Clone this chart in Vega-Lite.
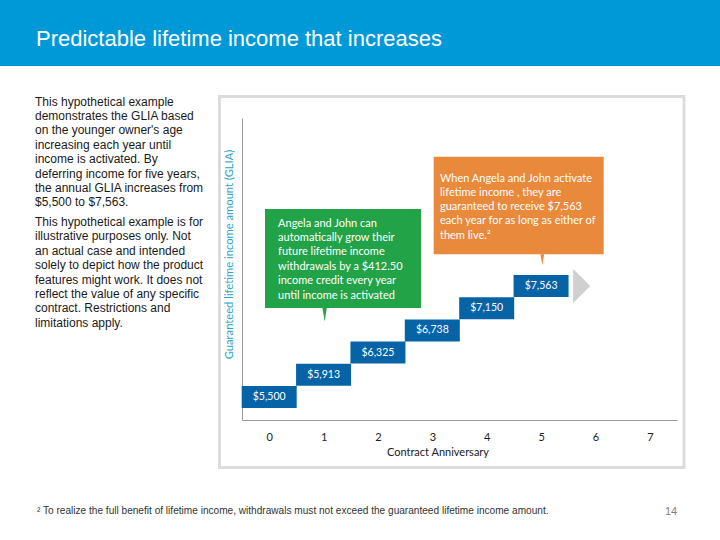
{
  "$schema": "https://vega.github.io/schema/vega-lite/v6.json",
  "padding": 0,
  "background": "white",
  "spacing": 29,
  "config": {
    "view": {"stroke": null},
    "font": "Lato",
    "axis": {"grid": false, "ticks": false, "tickSize": 0, "domainColor": "#999999", "domainWidth": 1, "labelFont": "Lato", "labelFontSize": 11, "labelColor": "#222222", "titleFont": "Lato", "titleFontWeight": "normal"}
  },
  "datasets": {
    "glia": [
      {"year": 0, "glia": 5500},
      {"year": 1, "glia": 5913},
      {"year": 2, "glia": 6325},
      {"year": 3, "glia": 6738},
      {"year": 4, "glia": 7150},
      {"year": 5, "glia": 7563}
    ]
  },
  "vconcat": [
    {
      "width": 720,
      "height": 66,
      "view": {"fill": "#0099D8", "stroke": null},
      "data": {"values": [{"heading": "Predictable lifetime income that increases"}]},
      "mark": {"type": "text", "align": "left", "baseline": "alphabetic", "font": "Liberation Sans", "fontSize": 22, "color": "white"},
      "encoding": {
        "text": {"field": "heading"},
        "x": {"datum": 36, "type": "quantitative", "scale": {"domain": [0, 720], "nice": false, "zero": false}, "axis": null},
        "y": {"datum": 46, "type": "quantitative", "scale": {"domain": [66, 0], "nice": false, "zero": false}, "axis": null}
      }
    },
    {
      "spacing": 0,
      "hconcat": [
        {
          "width": 217,
          "height": 300,
          "data": {"values": [
            {"paragraph": 1, "body": ["This hypothetical example", "demonstrates the GLIA based", "on the younger owner's age", "increasing each year until", "income is activated. By", "deferring income for five years,", "the annual GLIA increases from", "$5,500 to $7,563."]},
            {"paragraph": 2, "body": ["This hypothetical example is for", "illustrative purposes only. Not", "an actual case and intended", "solely to depict how the product", "features might work. It does not", "reflect the value of any specific", "contract. Restrictions and", "limitations apply."]}
          ]},
          "mark": {"type": "text", "align": "left", "baseline": "top", "font": "Liberation Sans", "fontSize": 12, "lineHeight": 14.4, "color": "#1a1a1a"},
          "encoding": {
            "text": {"field": "body"},
            "x": {"datum": 35, "type": "quantitative", "scale": {"domain": [0, 217], "nice": false, "zero": false}, "axis": null},
            "y": {"field": "paragraph", "type": "ordinal", "scale": {"type": "point", "range": [-21.5, 99], "padding": 0}, "axis": null}
          }
        },
        {
          "width": 435,
          "height": 302,
          "layer": [
            {
              "data": {"name": "glia"},
              "mark": {"type": "tick", "orient": "horizontal", "thickness": 22, "size": 55, "color": "#0563A6", "opacity": 1},
              "encoding": {
                "x": {"field": "year", "type": "quantitative", "scale": {"domain": [-0.5, 7.5], "nice": false, "zero": false},
                  "axis": {"title": "Contract Anniversary", "values": [0, 1, 2, 3, 4, 5, 6, 7], "format": "d", "labelPadding": 11, "titleFontSize": 11, "titleColor": "#222222", "titlePadding": 4, "titleX": 195.5}},
                "y": {"field": "glia", "type": "quantitative", "scale": {"domain": [5072.5, 10685.5], "nice": false, "zero": false},
                  "axis": {"title": "Guaranteed lifetime income amount (GLIA)", "labels": false, "titleFontSize": 11.2, "titleColor": "#2BA3C9", "titlePadding": 8, "titleY": 136}}
              }
            },
            {
              "data": {"values": [{"frame": "chart"}]},
              "mark": {"type": "rect", "fillOpacity": 0, "stroke": "#DCDCDC", "strokeWidth": 3},
              "encoding": {
                "x": {"datum": -0.914, "type": "quantitative"},
                "x2": {"datum": 7.629},
                "y": {"datum": 11085, "type": "quantitative"},
                "y2": {"datum": 4190}
              }
            },
            {
              "data": {"name": "glia"},
              "mark": {"type": "text", "align": "center", "baseline": "middle", "font": "Lato", "fontSize": 10.5, "color": "white"},
              "encoding": {
                "x": {"field": "year", "type": "quantitative", "axis": {"title": "Contract Anniversary"}},
                "y": {"field": "glia", "type": "quantitative", "axis": {"title": "Guaranteed lifetime income amount (GLIA)"}},
                "text": {"field": "glia", "type": "quantitative", "format": "$,.0f"}
              }
            },
            {
              "data": {"name": "glia"},
              "transform": [{"filter": "datum.year == 5"}],
              "mark": {"type": "point", "shape": "M-0.5,-1L0.5,0L-0.5,1Z", "size": 1176, "filled": true, "color": "#D0D0D0", "opacity": 1, "strokeWidth": 0},
              "encoding": {
                "x": {"datum": 5.747, "type": "quantitative"},
                "y": {"field": "glia", "type": "quantitative", "axis": {"title": "Guaranteed lifetime income amount (GLIA)"}}
              }
            },
            {
              "data": {"values": [{"note": ["Angela and John can", "automatically grow their", "future lifetime income", "withdrawals by a $412.50", "income credit every year", "until income is activated"]}]},
              "layer": [
                {
                  "mark": {"type": "rect", "color": "#23A347"},
                  "encoding": {
                    "x": {"datum": -0.077, "type": "quantitative"},
                    "x2": {"datum": 2.792},
                    "y": {"datum": 8994.2, "type": "quantitative"},
                    "y2": {"datum": 7154.2}
                  }
                },
                {
                  "mark": {"type": "point", "shape": "M-0.32,-1L0.32,-1L0,1Z", "size": 196, "filled": true, "color": "#23A347", "opacity": 1, "strokeWidth": 0},
                  "encoding": {
                    "x": {"datum": 1.02, "type": "quantitative"},
                    "y": {"datum": 7033.4, "type": "quantitative"}
                  }
                },
                {
                  "mark": {"type": "text", "align": "left", "baseline": "alphabetic", "font": "Lato", "fontSize": 11, "lineHeight": 14.4, "color": "white"},
                  "encoding": {
                    "text": {"field": "note"},
                    "x": {"datum": 0.1636, "type": "quantitative"},
                    "y": {"datum": 8668, "type": "quantitative"}
                  }
                }
              ]
            },
            {
              "data": {"values": [{"note": ["When Angela and John activate", "lifetime income , they are", "guaranteed to receive $7,563", "each year for as long as either of", "them live.²"]}]},
              "layer": [
                {
                  "mark": {"type": "rect", "color": "#E8893C"},
                  "encoding": {
                    "x": {"datum": 3.0255, "type": "quantitative"},
                    "x2": {"datum": 6.152},
                    "y": {"datum": 9966.2, "type": "quantitative"},
                    "y2": {"datum": 8152.2}
                  }
                },
                {
                  "mark": {"type": "point", "shape": "M-0.34,-1L0.34,-1L0,1Z", "size": 121, "filled": true, "color": "#E8893C", "opacity": 1, "strokeWidth": 0},
                  "encoding": {
                    "x": {"datum": 5.023, "type": "quantitative"},
                    "y": {"datum": 8051.9, "type": "quantitative"}
                  }
                },
                {
                  "mark": {"type": "text", "align": "left", "baseline": "alphabetic", "font": "Lato", "fontSize": 11, "lineHeight": 14.3, "color": "white"},
                  "encoding": {
                    "text": {"field": "note"},
                    "x": {"datum": 3.141, "type": "quantitative"},
                    "y": {"datum": 9505, "type": "quantitative"}
                  }
                }
              ]
            }
          ]
        }
      ]
    },
    {
      "width": 720,
      "height": 42,
      "layer": [
        {
          "data": {"values": [{"footnote": "² To realize the full benefit of lifetime income, withdrawals must not exceed the guaranteed lifetime income amount."}]},
          "mark": {"type": "text", "align": "left", "baseline": "alphabetic", "font": "Liberation Sans", "fontSize": 10.1, "color": "#333333"},
          "encoding": {
            "text": {"field": "footnote"},
            "x": {"datum": 37, "type": "quantitative", "scale": {"domain": [0, 720], "nice": false, "zero": false}, "axis": null},
            "y": {"datum": 15.5, "type": "quantitative", "scale": {"domain": [42, 0], "nice": false, "zero": false}, "axis": null}
          }
        },
        {
          "data": {"values": [{"page": "14"}]},
          "mark": {"type": "text", "align": "center", "baseline": "alphabetic", "font": "Liberation Sans", "fontSize": 11, "color": "#808080"},
          "encoding": {
            "text": {"field": "page"},
            "x": {"datum": 671, "type": "quantitative", "scale": {"domain": [0, 720], "nice": false, "zero": false}, "axis": null},
            "y": {"datum": 17, "type": "quantitative", "scale": {"domain": [42, 0], "nice": false, "zero": false}, "axis": null}
          }
        }
      ]
    }
  ]
}
